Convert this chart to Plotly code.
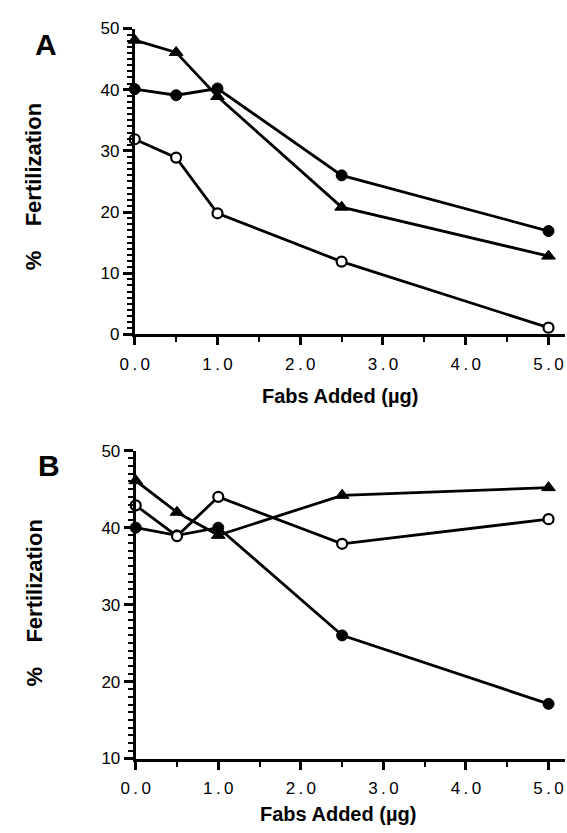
import plotly.graph_objects as go

# ---- data ----
x_vals = [0.0, 0.5, 1.0, 2.5, 5.0]

# Panel A
a_triangle = [48.1, 46.1, 38.9, 20.8, 12.8]
a_filled = [40.1, 39.1, 40.2, 26.0, 16.9]
a_open = [31.9, 28.9, 19.8, 11.9, 1.1]

# Panel B
b_triangle = [46.1, 42.0, 39.0, 44.2, 45.2]
b_filled = [40.0, 39.0, 40.0, 26.0, 17.1]
b_open = [42.9, 38.9, 44.0, 37.9, 41.1]

x_tickvals = [0, 1, 2, 3, 4, 5]
x_ticktext = ["0\u2009.\u20090", "1\u2009.\u20090", "2\u2009.\u20090",
              "3\u2009.\u20090", "4\u2009.\u20090", "5\u2009.\u20090"]
a_ytickvals = [0, 10, 20, 30, 40, 50]
b_ytickvals = [10, 20, 30, 40, 50]

W, H = 567, 833
FONT = "Liberation Sans, Arial, Helvetica, sans-serif"


def px(x):
    return x / W


def py(y):
    return 1 - y / H


fig = go.Figure()

styles = [
    dict(symbol="triangle-up", size=12, color="black", line=dict(color="black", width=1)),
    dict(symbol="circle", size=11, color="black", line=dict(color="black", width=1)),
    dict(symbol="circle", size=10, color="white", line=dict(color="black", width=2.2)),
]


def add_panel(series, xa, ya):
    for s, st in zip(series, styles):
        fig.add_trace(go.Scatter(
            x=x_vals, y=s, mode="lines+markers", xaxis=xa, yaxis=ya,
            line=dict(color="black", width=2.8), marker=st,
            cliponaxis=False, showlegend=False))


add_panel([a_triangle, a_filled, a_open], "x", "y")
add_panel([b_triangle, b_filled, b_open], "x2", "y2")

xcommon = dict(
    range=[0, 5.2], tickvals=x_tickvals, ticktext=x_ticktext,
    showline=True, linecolor="black", linewidth=3, showgrid=False, zeroline=False,
    ticks="outside", ticklen=8, tickwidth=2.5, tickcolor="black", ticklabelstandoff=4,
    minor=dict(dtick=0.5, tick0=0, ticks="outside", ticklen=5, tickwidth=2, tickcolor="black"),
    tickfont=dict(family=FONT, size=17, color="black"), fixedrange=True,
)
ycommon = dict(
    showline=True, linecolor="black", linewidth=3, showgrid=False, zeroline=False,
    ticks="outside", ticklen=9, tickwidth=2.5, tickcolor="black",
    minor=dict(dtick=1, ticks="outside", ticklen=5, tickwidth=2, tickcolor="black"),
    tickfont=dict(family=FONT, size=17, color="black"), fixedrange=True,
)

fig.update_layout(
    width=W, height=H, autosize=False,
    margin=dict(l=0, r=0, t=0, b=0),
    paper_bgcolor="white", plot_bgcolor="white",
    xaxis=dict(domain=[px(123), px(565)], anchor="y", **xcommon),
    yaxis=dict(domain=[py(333), py(20)], anchor="x", range=[0, 50], tickvals=a_ytickvals, **ycommon),
    xaxis2=dict(domain=[px(124), px(565)], anchor="y2", **xcommon),
    yaxis2=dict(domain=[py(767), py(452)], anchor="x2", range=[10, 50], tickvals=b_ytickvals, **ycommon),
)

NB = "\u00a0"
ytitle = "%" + NB * 4 + "Fertilization"
annos = [
    dict(text="<b>A</b>", x=px(32), y=py(36), font=dict(size=30)),
    dict(text="<b>B</b>", x=px(35), y=py(467), font=dict(size=30)),
    dict(text="<b>" + ytitle + "</b>", x=px(19), y=py(182), textangle=-90, font=dict(size=22)),
    dict(text="<b>" + ytitle + "</b>", x=px(20), y=py(608), textangle=-90, font=dict(size=22)),
    dict(text="<b>Fabs Added (\u00b5g)</b>", x=px(334), y=py(396), font=dict(size=20)),
    dict(text="<b>Fabs Added (\u00b5g)</b>", x=px(332), y=py(824), font=dict(size=20)),
]
for a in annos:
    a["font"].update(family=FONT, color="black")
    fig.add_annotation(xref="paper", yref="paper", xanchor="center", yanchor="middle",
                       showarrow=False, **a)

fig.write_html("out.html")
